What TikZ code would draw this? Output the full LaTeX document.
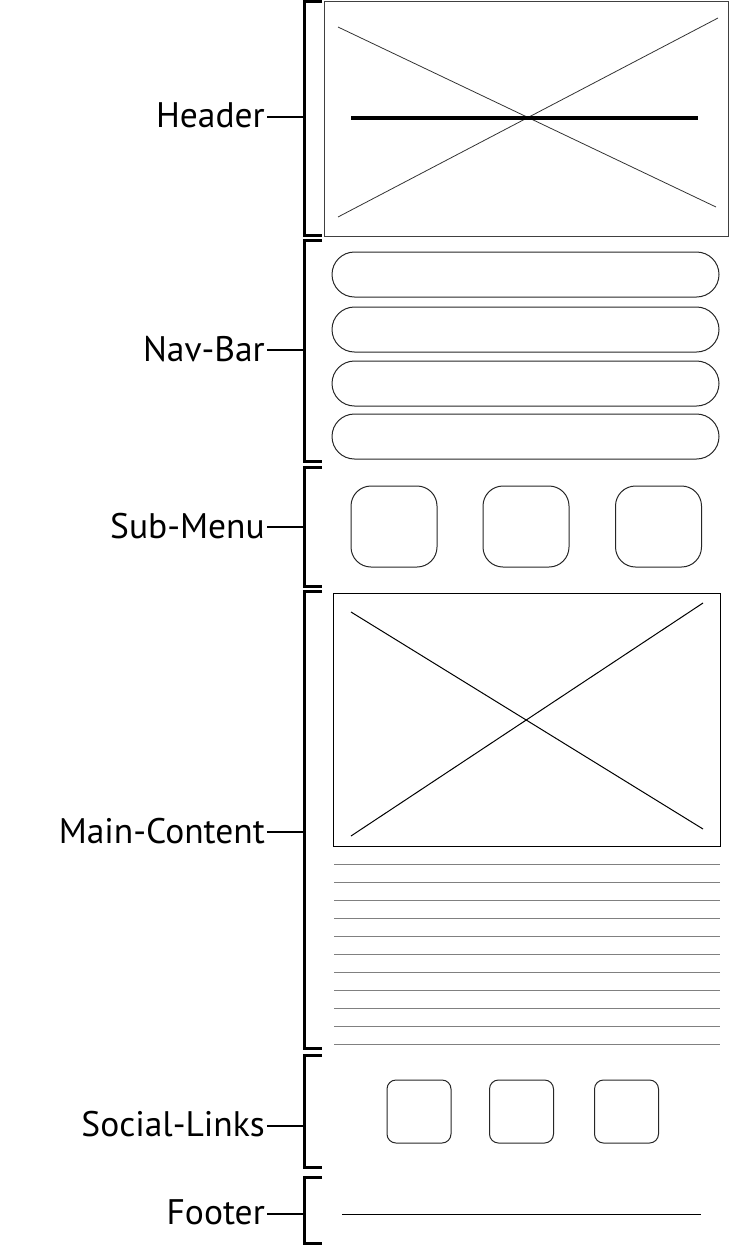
\documentclass[tikz,border=0pt]{standalone}
\usepackage{fontspec}
\setmainfont{PT Sans}
\usepackage{tikz}
\usetikzlibrary{positioning}

\tikzset{
    lbl/.style={anchor=east, inner sep=2pt, font=\fontsize{35.5}{40}\selectfont},
    stem/.style={line width=2.6pt},
    bracket/.style={line width=3pt},
    frame/.style={draw=black!75, line width=1pt},
    cross/.style={draw=black!80, line width=0.8pt},
    pill/.style={draw=black!85, line width=1pt, rounded corners=22.5pt, minimum width=387pt, minimum height=45pt},
    tile/.style={draw=black!85, line width=1pt, rounded corners=20pt, minimum width=86pt, minimum height=81pt},
    icon/.style={draw=black!85, line width=1pt, rounded corners=9pt, minimum width=64pt, minimum height=63pt},
    textline/.style={draw=black!50, line width=1pt},
}

\begin{document}
\begin{tikzpicture}[x=1pt, y=-1pt]
    \useasboundingbox (0,0) rectangle (729,1251);

    % labels
    \node[lbl] (header)  at (267,115)  {Header};
    \node[lbl] (navbar)  at (267,349)  {Nav-Bar};
    \node[lbl] (submenu) at (267,526)  {Sub-Menu};
    \node[lbl] (main)    at (267,831)  {Main-Content};
    \node[lbl] (social)  at (267,1124) {Social-Links};
    \node[lbl] (footer)  at (267,1212) {Footer};

    % brackets
    \coordinate (bHeader)  at (304,117);
    \coordinate (bNavbar)  at (304,350);
    \coordinate (bSubmenu) at (304,527);
    \coordinate (bMain)    at (304,832);
    \coordinate (bSocial)  at (304,1126);
    \coordinate (bFooter)  at (304,1214);
    \draw[bracket] (322,1.5) -- (304,1.5) -- (304,235) -- (322,235);
    \draw[bracket] (322,240) -- (304,240) -- (304,461) -- (322,461);
    \draw[bracket] (322,467) -- (304,467) -- (304,586) -- (322,586);
    \draw[bracket] (322,591) -- (304,591) -- (304,1048) -- (322,1048);
    \draw[bracket] (322,1055) -- (304,1055) -- (304,1167) -- (322,1167);
    \draw[bracket] (322,1177) -- (304,1177) -- (304,1243) -- (322,1243);
    \path[stem]
        (header.east |- bHeader)   edge (bHeader)
        (navbar.east |- bNavbar)   edge (bNavbar)
        (submenu.east |- bSubmenu) edge (bSubmenu)
        (main.east |- bMain)       edge (bMain)
        (social.east |- bSocial)   edge (bSocial)
        (footer.east |- bFooter)   edge (bFooter);

    % header
    \node[frame, minimum width=404pt, minimum height=235pt] (hdbox) at (526,118.5) {};
    \draw[cross] (338,27) -- (716,207);
    \draw[cross] (338,217) -- (718,18);
    \draw[line width=4pt] (351,118) -- (698,118);

    % nav-bar
    \node[pill] (nav1) at (525.5,274.5) {};
    \node[pill] (nav2) at (525.5,329.5) {};
    \node[pill] (nav3) at (525.5,383.5) {};
    \node[pill] (nav4) at (525.5,436.5) {};

    % sub-menu
    \node[tile] (sub1) at (394,526.5)   {};
    \node[tile] (sub2) at (526,526.5)   {};
    \node[tile] (sub3) at (658.5,526.5) {};

    % main content
    \node[draw, line width=1pt, minimum width=387pt, minimum height=253pt] (img) at (526.5,719.5) {};
    \draw[line width=1pt] (351,836) -- (703,603);
    \draw[line width=1pt] (351,612) -- (703,829);
    \foreach \y in {864,882,...,1044}
        \draw[textline] (334,\y) -- (720,\y);

    % social links
    \node[icon] (fb) at (419,1111.5)   {};
    \node[icon] (tw) at (521.5,1111.5) {};
    \node[icon] (ig) at (626.5,1111.5) {};

    % footer
    \draw[line width=1pt] (342,1214) -- (701,1214);
\end{tikzpicture}
\end{document}
